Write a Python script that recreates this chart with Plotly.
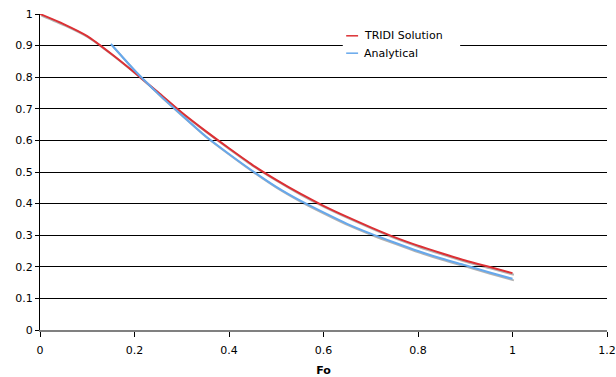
import plotly.graph_objects as go

# Data
fo_tridi = [0.0, 0.05, 0.1, 0.15, 0.2, 0.25, 0.3, 0.35, 0.4, 0.45, 0.5,
            0.55, 0.6, 0.65, 0.7, 0.75, 0.8, 0.85, 0.9, 0.95, 1.0]
tridi = [1.000, 0.968, 0.930, 0.875, 0.815, 0.752, 0.688, 0.630, 0.575, 0.522, 0.475,
         0.432, 0.393, 0.358, 0.325, 0.294, 0.267, 0.243, 0.220, 0.200, 0.180]

fo_analytical = [0.15, 0.2, 0.25, 0.3, 0.35, 0.4, 0.45, 0.5, 0.55, 0.6,
                 0.65, 0.7, 0.75, 0.8, 0.85, 0.9, 0.95, 1.0]
analytical = [0.905, 0.822, 0.748, 0.680, 0.614, 0.557, 0.503, 0.453, 0.410, 0.372,
              0.336, 0.305, 0.277, 0.250, 0.226, 0.205, 0.183, 0.162]

series_names = ["TRIDI Solution", "Analytical"]
x_ticks = [0, 0.2, 0.4, 0.6, 0.8, 1, 1.2]
y_ticks = [0, 0.1, 0.2, 0.3, 0.4, 0.5, 0.6, 0.7, 0.8, 0.9, 1]

RED = "#dc3034"
BLUE = "#66a8ec"
SHADOW = "rgba(0,0,0,0.30)"
FONT = "DejaVu Sans, Verdana, sans-serif"

# small drop-shadow offset (Excel style)
sdx, sdy = 0.003, -0.005

fig = go.Figure()
for xs, ys in [(fo_tridi, tridi), (fo_analytical, analytical)]:
    fig.add_trace(go.Scatter(x=[v + sdx for v in xs], y=[v + sdy for v in ys],
                             mode="lines", line=dict(color=SHADOW, width=2, shape="spline", smoothing=0.6),
                             showlegend=False, hoverinfo="skip"))
fig.add_trace(go.Scatter(x=fo_tridi, y=tridi, mode="lines", name=series_names[0],
                         line=dict(color=RED, width=2, shape="spline", smoothing=0.6), showlegend=False))
fig.add_trace(go.Scatter(x=fo_analytical, y=analytical, mode="lines", name=series_names[1],
                         line=dict(color=BLUE, width=2, shape="spline", smoothing=0.6), showlegend=False))

# custom legend (white box covering gridline)
shapes = [
    dict(type="rect", xref="paper", yref="paper", x0=0.534, x1=0.741, y0=0.845, y1=0.962,
         fillcolor="white", line=dict(width=0), layer="above"),
    dict(type="line", xref="paper", yref="paper", x0=0.540, x1=0.561, y0=0.931, y1=0.931,
         line=dict(color=RED, width=1.5), layer="above"),
    dict(type="line", xref="paper", yref="paper", x0=0.540, x1=0.561, y0=0.876, y1=0.876,
         line=dict(color=BLUE, width=1.5), layer="above"),
]
annotations = [
    dict(x=0.568, y=0.931, xref="paper", yref="paper", text=series_names[0], showarrow=False,
         xanchor="left", yanchor="middle", font=dict(family=FONT, size=11, color="#000")),
    dict(x=0.568, y=0.876, xref="paper", yref="paper", text=series_names[1], showarrow=False,
         xanchor="left", yanchor="middle", font=dict(family=FONT, size=11, color="#000")),
]

fig.update_layout(
    width=616, height=377,
    margin=dict(l=40, r=9, t=14, b=47, autoexpand=False),
    paper_bgcolor="white", plot_bgcolor="white",
    font=dict(family=FONT, size=10, color="#000"),
    shapes=shapes, annotations=annotations,
    showlegend=False,
)
fig.update_xaxes(
    range=[0, 1.2], tickvals=x_ticks, ticktext=[f"{t:g}" for t in x_ticks],
    showgrid=False, zeroline=False, automargin=False,
    showline=True, linecolor="#808080", linewidth=1.5,
    ticks="outside", ticklen=5, tickcolor="#000", ticklabelstandoff=4,
    tickfont=dict(family=FONT, size=11),
    title=dict(text="<b>Fo</b>", font=dict(family=FONT, size=11), standoff=14),
)
fig.update_yaxes(
    range=[0, 1], tickvals=y_ticks, ticktext=[f"{t:g}" for t in y_ticks],
    showgrid=True, gridcolor="#000", gridwidth=1, zeroline=False, automargin=False,
    showline=True, linecolor="#000", linewidth=1,
    ticks="outside", ticklen=4, tickcolor="#000",
    tickfont=dict(family=FONT, size=11),
)

fig.write_html("out.html", config={"displayModeBar": False},
               post_script="document.body.style.margin='0px';document.body.style.overflow='hidden';")
